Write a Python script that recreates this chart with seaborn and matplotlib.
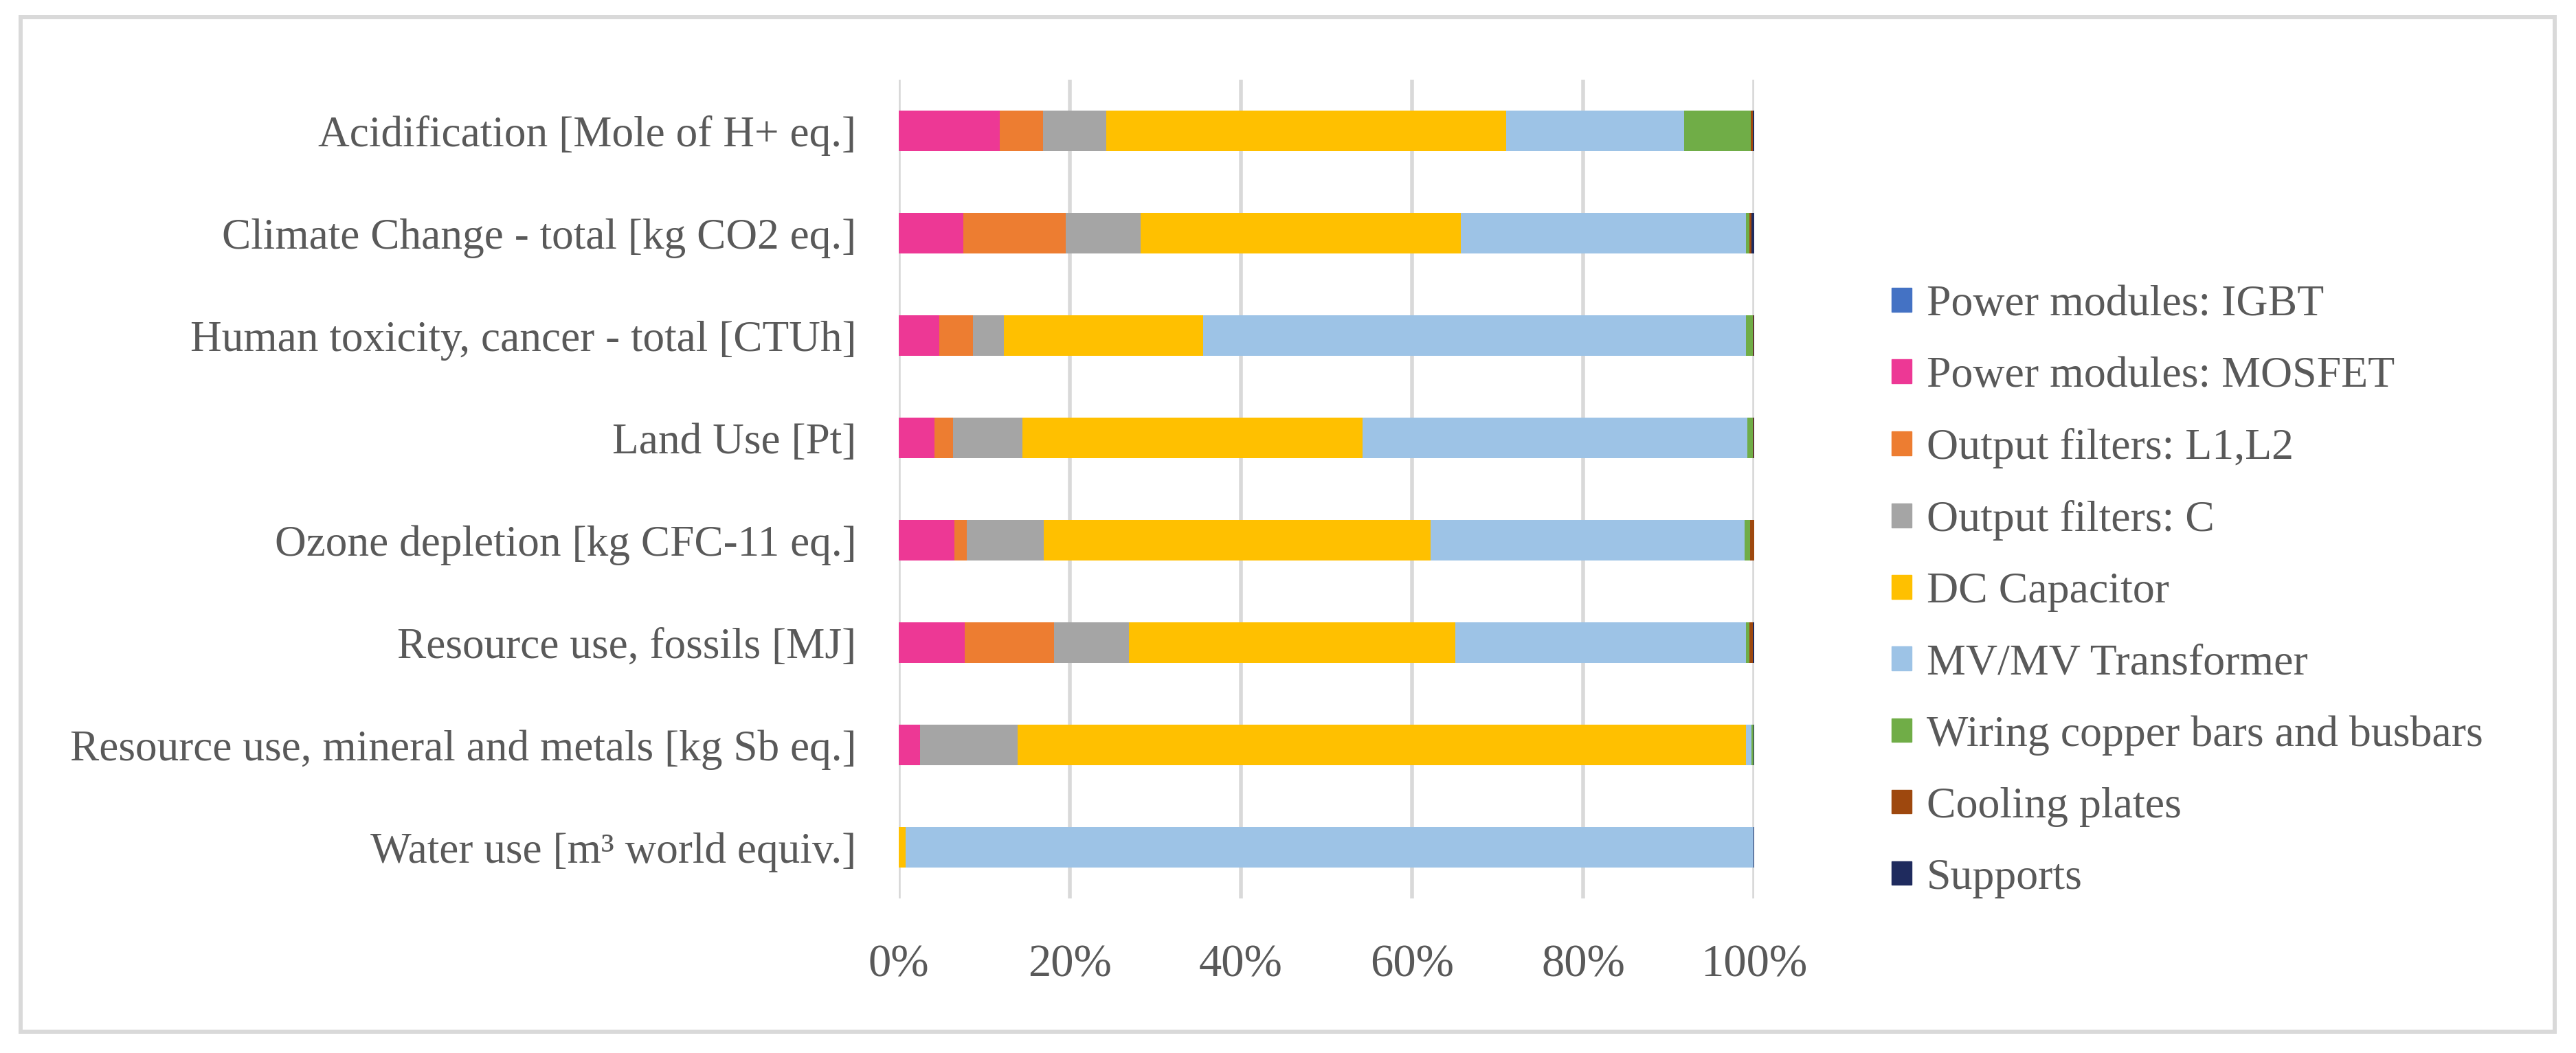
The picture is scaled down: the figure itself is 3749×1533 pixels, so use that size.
import numpy as np
import pandas as pd
import matplotlib
matplotlib.use('Agg')
import matplotlib.pyplot as plt
import matplotlib.patches as mpatches
import seaborn as sns

# impact categories (top to bottom)
categories = ['Acidification [Mole of H+ eq.]',
              'Climate Change - total [kg CO2 eq.]',
              'Human toxicity, cancer - total [CTUh]',
              'Land Use [Pt]',
              'Ozone depletion [kg CFC-11 eq.]',
              'Resource use, fossils [MJ]',
              'Resource use, mineral and metals [kg Sb eq.]',
              'Water use [m³ world equiv.]']

series_names = ['Power modules: IGBT', 'Power modules: MOSFET', 'Output filters: L1,L2',
                'Output filters: C', 'DC Capacitor', 'MV/MV Transformer',
                'Wiring copper bars and busbars', 'Cooling plates', 'Supports']

# share of each component (%)
igbt = [0.0, 0.0, 0.0, 0.0, 0.0, 0.0, 0.0, 0.0]
mosfet = [11.8, 7.6, 4.8, 4.2, 6.5, 7.7, 2.5, 0.0]
filt_l = [5.1, 11.9, 3.9, 2.2, 1.5, 10.5, 0.0, 0.0]
filt_c = [7.4, 8.8, 3.6, 8.1, 9.0, 8.7, 11.4, 0.0]
dc_cap = [46.7, 37.4, 23.3, 39.7, 45.2, 38.2, 85.1, 0.8]
transformer = [20.8, 33.3, 63.4, 45.0, 36.7, 33.9, 0.7, 99.1]
wiring = [7.8, 0.4, 0.8, 0.6, 0.6, 0.4, 0.2, 0.0]
cooling = [0.2, 0.3, 0.1, 0.1, 0.5, 0.4, 0.0, 0.0]
supports = [0.2, 0.3, 0.1, 0.1, 0.0, 0.2, 0.1, 0.1]

colors = ['#4472C4', '#ED3895', '#ED7D31', '#A5A5A5', '#FFC000',
          '#9DC3E6', '#70AD47', '#9E480E', '#1F2B5E']

sns.set_theme(style='white')
plt.rcParams['font.family'] = ['Liberation Serif', 'DejaVu Serif']
txt_color = '#595959'

values = np.array([igbt, mosfet, filt_l, filt_c, dc_cap, transformer, wiring, cooling, supports])
values = values / values.sum(axis=0) * 100
cum = np.cumsum(values, axis=0)

fig = plt.figure(figsize=(37.49, 15.33), dpi=100)
ax = fig.add_axes([0.3488, 0.1468, 0.3322, 0.7775])

# stacked bars: draw cumulative totals from the last series back to the first
for i in range(len(series_names) - 1, -1, -1):
    df = pd.DataFrame({'cat': categories, 'val': cum[i]})
    sns.barplot(data=df, x='val', y='cat', color=colors[i], width=0.4, orient='h',
                saturation=1, linewidth=0, errorbar=None, ax=ax)

ax.set_xlim(0, 100)
ax.set_ylim(7.5, -0.5)
ax.set_xticks(range(0, 101, 20))
ax.set_xticklabels([f'{t}%' for t in range(0, 101, 20)])
ax.set_xlabel('')
ax.set_ylabel('')
ax.grid(axis='x', color='#D9D9D9', linewidth=4)
ax.grid(axis='y', visible=False)
ax.set_axisbelow(True)
for s in ax.spines.values():
    s.set_visible(False)
ax.tick_params(axis='x', length=0, pad=48, labelsize=48, labelcolor=txt_color)
ax.tick_params(axis='y', length=0, pad=44, labelsize=45.5, labelcolor=txt_color)

handles = [mpatches.Patch(color=c, label=n) for c, n in zip(colors, series_names)]
fig.legend(handles=handles, loc='center left', bbox_to_anchor=(0.7343, 0.438),
           frameon=False, fontsize=46, labelcolor=txt_color,
           handlelength=0.45, handleheight=0.45, handletextpad=0.35,
           labelspacing=0.72, borderpad=0, borderaxespad=0)

# light frame around the chart area
fig.patches.append(mpatches.Rectangle((0.008, 0.0202), 0.9837, 0.9635, transform=fig.transFigure,
                                      fill=False, edgecolor='#D9D9D9', linewidth=4.3))

fig.savefig('out.png', dpi=100, facecolor='white')
